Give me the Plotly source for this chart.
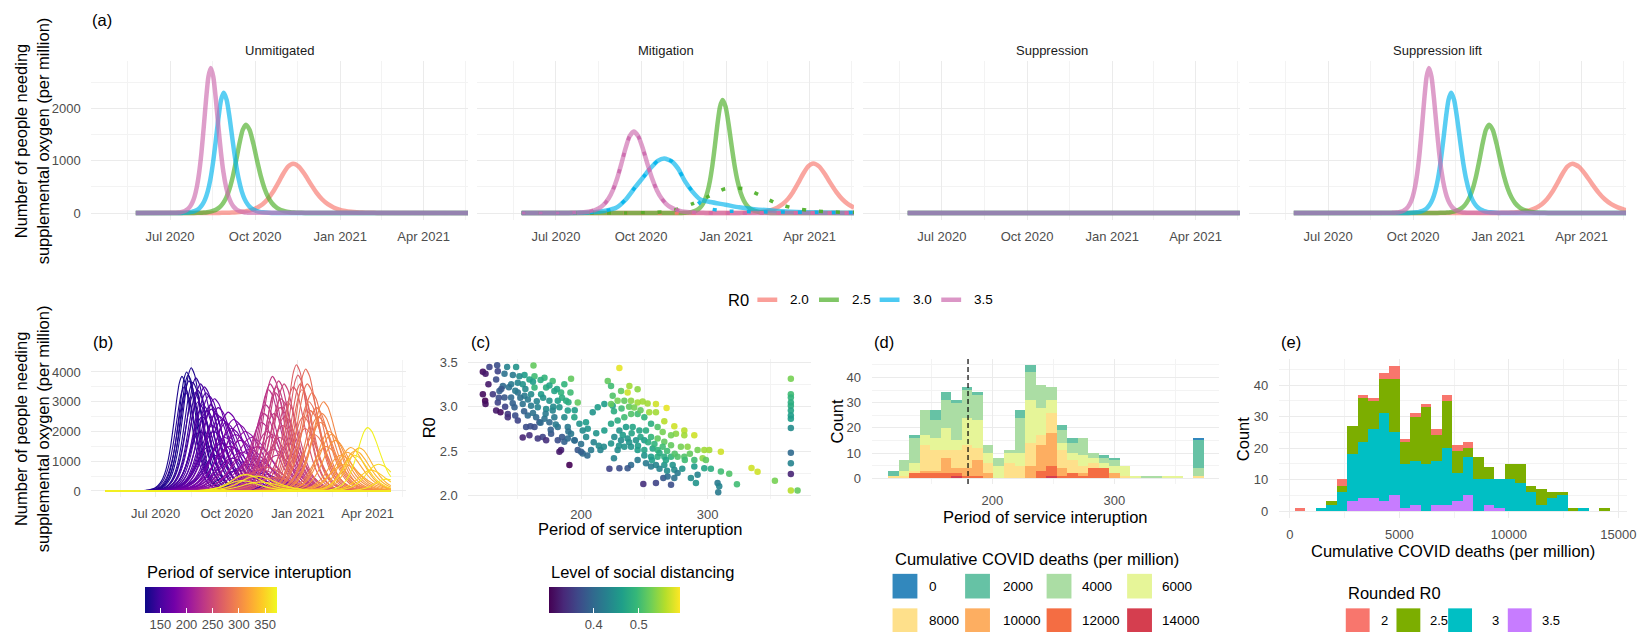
import numpy as np
import pandas as pd
import plotly.graph_objects as go
from plotly.colors import sample_colorscale

W, H = 1648, 638
def fx(px): return px / W
def fy(py): return 1 - py / H

FONT = "Liberation Sans, Arial, Helvetica, sans-serif"
GRID = "#EBEBEB"
MINOR = "#F3F3F3"
TICKFONT = dict(family=FONT, size=13, color="#4D4D4D")

# ---------------- data: panel (a) ----------------
R0_LEVELS = ["2.0", "2.5", "3.0", "3.5"]
R0_COLORS = ["#F8766D", "#4AAE25", "#00B4EC", "#CC6AAE"]
SCENARIOS = ["Unmitigated", "Mitigation", "Suppression", "Suppression lift"]
A_LINE_START, A_LINE_END = "2020-05-25", "2021-05-19"

A_PEAK = {
    "Unmitigated": ["2020-11-11", "2020-09-21", "2020-08-28", "2020-08-14"],
    "Mitigation": ["2021-04-05", "2020-12-28", "2020-10-26", "2020-09-23"],
    "Suppression": ["2020-11-11", "2020-09-21", "2020-08-28", "2020-08-14"],
    "Suppression lift": ["2021-03-22", "2020-12-22", "2020-11-11", "2020-10-18"],
}
A_HEIGHT = {
    "Unmitigated": [943, 1690, 2300, 2774],
    "Mitigation": [950, 2164, 1044, 1560],
    "Suppression": [0, 0, 0, 0],
    "Suppression lift": [943, 1690, 2300, 2774],
}
A_WIDTH_LEFT = {
    "Unmitigated": [22, 14, 11.5, 10],
    "Mitigation": [22, 11, 18, 18],
    "Suppression": [22, 14, 11.5, 10],
    "Suppression lift": [22, 14, 11.5, 10],
}
A_WIDTH_RIGHT = {
    "Unmitigated": [25, 16, 13, 11],
    "Mitigation": [25, 13, 20, 20],
    "Suppression": [25, 16, 13, 11],
    "Suppression lift": [28, 16, 13, 11],
}
# mitigation, R0 = 3.0 (long tail)
MIT_BLUE_DATES = ["2020-05-25", "2020-07-20", "2020-08-10", "2020-08-25", "2020-09-04", "2020-09-14",
                  "2020-09-24", "2020-10-04", "2020-10-11", "2020-10-19", "2020-10-26", "2020-11-03",
                  "2020-11-10", "2020-11-17", "2020-11-25", "2020-12-04", "2020-12-15", "2020-12-31",
                  "2021-01-15", "2021-01-31", "2021-02-25", "2021-03-25", "2021-04-25", "2021-05-19"]
MIT_BLUE_VALUES = [0, 2, 15, 50, 100, 250, 480, 700, 855, 1000, 1044, 990, 850, 620, 420, 260, 210, 160,
                   110, 75, 40, 15, 5, 2]
# mitigation dotted series
MIT_DOT_GREEN_DATES = ["2020-05-25", "2020-09-15", "2020-10-16", "2020-11-05", "2020-11-26", "2020-12-13",
                       "2020-12-31", "2021-01-21", "2021-02-07", "2021-02-25", "2021-03-16", "2021-04-05",
                       "2021-04-25", "2021-05-19"]
MIT_DOT_GREEN_VALUES = [0, 3, 10, 50, 180, 320, 465, 465, 335, 180, 90, 40, 20, 15]
MIT_DOT_BLUE_DATES = MIT_BLUE_DATES[:15] + ["2020-12-04", "2020-12-15", "2020-12-31", "2021-02-01",
                                             "2021-04-01", "2021-05-19"]
MIT_DOT_BLUE_VALUES = MIT_BLUE_VALUES[:15] + [180, 80, 40, 25, 15, 10]

# normalised epidemic-curve shape (offset in widths -> fraction of peak)
PROFILE_U = [-4, -3.75, -3.5, -3.25, -3, -2.75, -2.5, -2.25, -2, -1.75, -1.5, -1.25, -1, -0.75, -0.5, -0.25,
             0, 0.25, 0.5, 0.75, 1, 1.25, 1.5, 1.75, 2, 2.25, 2.5, 2.75, 3, 3.25, 3.5, 3.75, 4]
PROFILE_V = [0.00134, 0.00221, 0.00364, 0.00600, 0.00987, 0.01621, 0.02659, 0.04346, 0.07065, 0.11380,
             0.18071, 0.28040, 0.41997, 0.59663, 0.78645, 0.94002, 1.0, 0.94002, 0.78645, 0.59663, 0.41997,
             0.28040, 0.18071, 0.11380, 0.07065, 0.04346, 0.02659, 0.01621, 0.00987, 0.00600, 0.00364,
             0.00221, 0.00134]

# ---------------- data: panel (b) ----------------
B_LINE_START, B_LINE_END = "2020-04-27", "2021-05-01"
B_PEAK = ["2020-08-10", "2020-08-16", "2020-08-04", "2020-08-07", "2020-08-20", "2020-08-28", "2020-09-02",
          "2020-08-25", "2020-09-08", "2020-09-15", "2020-09-05", "2020-09-20", "2020-10-03", "2020-09-25",
          "2020-10-10", "2020-10-16", "2020-09-12", "2020-08-30", "2020-10-25", "2020-11-02", "2020-09-28",
          "2020-10-05", "2020-10-20", "2020-09-18", "2020-10-28", "2020-11-10", "2020-10-15", "2020-08-22",
          "2020-08-13", "2020-09-10",
          "2020-10-25", "2020-11-08", "2020-11-01", "2020-11-15", "2020-10-30",
          "2020-11-29", "2020-12-07", "2020-12-14", "2020-11-24", "2020-12-03", "2020-12-10", "2020-11-20",
          "2020-12-18", "2020-12-01", "2020-11-15", "2020-12-12", "2020-11-28", "2020-12-20", "2020-11-10",
          "2020-12-05",
          "2020-12-30", "2021-01-11", "2021-01-04", "2021-01-19", "2020-12-26", "2021-01-15", "2021-01-25",
          "2021-02-03", "2021-01-08", "2021-01-30", "2021-02-10", "2021-02-18", "2021-01-22", "2021-02-06",
          "2021-03-10", "2021-03-21", "2021-02-25", "2021-03-01",
          "2021-04-01", "2021-03-15", "2021-04-15", "2021-04-25", "2021-04-05"]
B_HEIGHT = [4000, 4140, 3850, 3500, 3300, 3600, 3500, 3000, 3200, 3100, 2700, 2800, 2650, 2400, 2400, 2250,
            2200, 2500, 2000, 1800, 1800, 1500, 1300, 1200, 900, 600, 700, 3800, 3700, 2900,
            550, 500, 600, 700, 450,
            3850, 3700, 3600, 3400, 3300, 3100, 2900, 3000, 2600, 2300, 2200, 1900, 1600, 1500, 1200,
            4240, 4100, 3600, 3300, 3500, 3000, 2800, 3000, 2500, 2300, 2000, 1700, 1900, 1500, 1460, 1450,
            1200, 900,
            2130, 1200, 900, 400, 700]
B_WIDTH = [14, 15, 14, 15, 16, 17, 18, 17, 19, 20, 18, 21, 22, 22, 24, 24, 20, 18, 26, 28, 25, 28, 30, 25,
           32, 35, 30, 16, 15, 19,
           25, 28, 30, 30, 28,
           17, 17, 17, 18, 18, 19, 19, 18, 20, 21, 20, 22, 22, 25, 25,
           16, 17, 17, 18, 17, 18, 19, 19, 18, 20, 20, 21, 20, 22, 20, 20, 22, 25,
           18, 20, 22, 20, 22]
B_PERIOD = [125, 130, 128, 135, 140, 150, 155, 145, 160, 165, 150, 170, 175, 165, 180, 185, 160, 140, 195,
            205, 170, 180, 190, 150, 175, 160, 140, 138, 132, 158,
            365, 360, 250, 230, 140,
            235, 240, 245, 230, 238, 242, 225, 250, 235, 222, 245, 228, 240, 215, 225,
            268, 280, 272, 285, 262, 282, 290, 300, 275, 295, 305, 312, 288, 300, 322, 330, 315, 318,
            368, 350, 355, 360, 345]
# further curves of panel (b)
B_PEAK_2 = ["2020-08-12", "2020-08-18", "2020-08-09", "2020-08-24", "2020-09-04", "2020-08-31", "2020-09-11",
            "2020-09-17", "2020-09-22", "2020-09-30", "2020-10-07", "2020-10-12", "2020-09-14", "2020-09-24",
            "2020-10-18", "2020-10-30", "2020-10-08", "2020-11-05", "2020-09-08", "2020-08-27",
            "2020-11-26", "2020-12-04", "2020-12-09", "2020-11-18", "2020-12-15", "2020-11-22", "2020-12-08",
            "2020-11-30",
            "2021-01-01", "2021-01-06", "2021-01-13", "2021-01-17", "2021-01-27", "2021-02-01", "2021-02-13",
            "2021-01-10", "2021-03-05", "2021-03-16",
            "2020-11-20", "2020-12-01", "2020-10-20", "2020-11-12"]
B_HEIGHT_2 = [3900, 3650, 3300, 3400, 3300, 2900, 2750, 2600, 2500, 2300, 2100, 1900, 2000, 1600, 1700, 1400,
              1100, 1100, 1500, 2000,
              3600, 3500, 2800, 2600, 2500, 2000, 1800, 1400,
              3900, 3400, 3600, 2700, 2500, 2600, 1900, 2100, 1300, 1350,
              800, 450, 350, 300]
B_WIDTH_2 = [14, 15, 15, 16, 18, 18, 19, 20, 21, 22, 24, 25, 22, 24, 26, 28, 28, 30, 22, 18,
             17, 18, 19, 20, 20, 22, 22, 24,
             16, 17, 18, 19, 20, 19, 21, 19, 22, 21,
             30, 30, 25, 30]
B_PERIOD_2 = [127, 133, 136, 142, 152, 148, 158, 163, 168, 172, 178, 182, 150, 160, 188, 198, 170, 200, 145, 138,
              232, 237, 243, 226, 248, 230, 236, 232,
              265, 275, 283, 286, 292, 298, 308, 278, 320, 328,
              255, 270, 368, 362]
B_PERIOD_RANGE = [121, 373]

# ---------------- data: panel (c) ----------------
C_PERIOD_L1 = [122.4, 124.5, 127.6, 133.7, 134.2, 141.6, 148.7, 162.4, 163.2, 155.3, 151.3, 146.1, 139.5,
               132.9, 126.8, 122.4, 124.2, 124.5, 130.3, 135.5, 138.2, 144.7, 150.0, 153.9, 159.2, 163.2,
               171.1, 177.6, 186.8, 192.1]
C_R0_L1 = [3.393, 3.370, 3.448, 3.467, 3.400, 3.448, 3.448, 3.463, 3.344, 3.356, 3.344, 3.356, 3.370, 3.307,
           3.252, 3.141, 3.067, 3.030, 3.141, 3.178, 3.233, 3.252, 3.270, 3.252, 3.307, 3.215, 3.326, 3.289,
           3.252, 3.315]
C_SD_L1 = [.31, .32, .36, .37, .36, .43, .45, .52, .50, .46, .44, .42, .41, .37, .32, .31, .30, .31, .35, .39,
           .40, .42, .43, .45, .47, .49, .49, .50, .49, .52]

C_PERIOD_L2 = [172.4, 178.9, 184.2, 191.6, 197.4, 188.2, 181.6, 175.0, 168.4, 160.5, 155.3, 150.0, 144.7,
               139.5, 134.2, 132.9, 136.3, 142.1, 142.1, 150.0, 147.4, 153.9, 160.5, 165.8, 172.4, 177.6,
               182.9, 189.5, 194.7, 186.8]
C_R0_L2 = [3.215, 3.178, 3.159, 3.159, 3.048, 3.067, 3.067, 3.067, 3.141, 3.141, 3.122, 3.159, 3.104, 3.104,
           3.048, 2.956, 2.937, 2.919, 2.881, 2.844, 2.993, 3.030, 3.011, 2.993, 2.974, 2.956, 2.993, 2.956,
           2.881, 2.881]
C_SD_L2 = [.48, .47, .49, .50, .52, .48, .46, .45, .46, .44, .42, .41, .40, .38, .36, .32, .31, .35, .34, .36,
           .39, .41, .42, .43, .44, .43, .45, .46, .47, .44]

C_PERIOD_L3 = [178.9, 171.1, 164.5, 157.9, 156.6, 163.2, 167.1, 175.0, 181.6, 189.5, 192.1, 198.7, 203.9,
               201.3, 205.3, 176.3, 169.7, 159.2, 153.9, 165.8, 172.4, 181.6, 186.8, 189.5, 194.7, 184.2,
               182.9, 197.4, 201.3, 200.0, 190.8, 207.9, 215.3]
C_R0_L3 = [2.881, 2.863, 2.881, 2.900, 2.770, 2.770, 2.826, 2.826, 2.770, 2.770, 2.696, 2.807, 2.826, 2.733,
           2.752, 2.696, 2.659, 2.678, 2.652, 2.641, 2.622, 2.622, 2.604, 2.641, 2.622, 2.511, 2.493, 2.511,
           2.474, 2.493, 2.344, 2.511, 2.511]
C_SD_L3 = [.42, .41, .40, .40, .37, .37, .38, .40, .41, .42, .42, .45, .46, .44, .45, .38, .36, .34, .33, .35,
           .34, .37, .39, .40, .41, .33, .32, .38, .40, .39, .30, .42, .43]

C_PERIOD_L4 = [137, 143, 148, 156, 162, 168, 175, 181, 170, 165, 158, 152, 146, 140, 135, 185, 190, 195, 178,
               172, 162, 155, 148, 168, 180, 190, 176, 160, 185, 195, 200, 204, 210, 214, 205]
C_R0_L4 = [3.20, 3.22, 3.18, 3.20, 3.28, 3.30, 3.24, 3.20, 3.10, 3.06, 3.08, 3.10, 3.04, 3.00, 3.10, 3.10,
           3.05, 2.96, 3.00, 2.92, 2.93, 2.95, 2.90, 2.82, 2.80, 2.72, 2.74, 2.78, 2.66, 2.62, 2.58, 2.66,
           2.60, 2.56, 2.45]
C_SD_L4 = [.38, .41, .42, .44, .46, .48, .47, .47, .45, .43, .42, .41, .39, .36, .37, .48, .48, .46, .44, .42,
           .41, .39, .37, .40, .42, .41, .39, .37, .38, .40, .41, .44, .43, .44, .40]

C_PERIOD_M1 = [209.2, 213.2, 218.4, 225.0, 221.1, 223.7, 230.3, 238.2, 244.7, 236.8, 231.6, 225.0, 223.7,
               228.9, 234.2, 239.5, 244.7, 248.7, 252.6, 259.2, 267.6, 253.9, 259.2, 265.8, 273.7, 281.6,
               289.5, 281.6, 275.0, 271.1, 264.5, 260.5, 265.8, 271.1, 278.9, 284.2, 292.1, 297.4, 301.3,
               310.5]
C_R0_M1 = [2.937, 2.993, 3.030, 3.011, 3.289, 3.233, 3.437, 3.233, 3.196, 3.159, 3.178, 3.122, 3.030, 3.067,
           3.067, 3.067, 3.048, 3.059, 3.037, 3.030, 2.985, 2.937, 2.937, 2.837, 2.781, 2.733, 2.678, 2.678,
           2.696, 2.678, 2.715, 2.641, 2.604, 2.567, 2.548, 2.548, 2.511, 2.511, 2.511, 2.493]
C_SD_M1 = [.45, .46, .46, .47, .52, .50, .58, .55, .54, .57, .52, .51, .52, .53, .52, .54, .55, .55, .55, .57,
           .58, .55, .55, .56, .57, .56, .57, .55, .54, .53, .53, .52, .52, .52, .53, .54, .53, .55, .55, .57]

C_PERIOD_M2 = [296.1, 298.7, 289.5, 281.6, 276.3, 271.1, 265.8, 260.5, 255.3, 250.0, 244.7, 239.5, 234.2,
               228.9, 223.7, 218.4, 223.7, 228.9, 234.2, 239.5, 244.7, 250.0, 255.3, 251.3, 246.1, 240.8,
               235.5, 230.3, 226.3, 231.6, 236.8, 243.4, 250.0, 255.3, 260.5, 264.5, 256.6, 260.5]
C_R0_M2 = [2.419, 2.400, 2.400, 2.437, 2.437, 2.437, 2.437, 2.437, 2.437, 2.511, 2.511, 2.548, 2.548, 2.511,
           2.585, 2.733, 2.807, 2.844, 2.881, 2.919, 2.919, 2.881, 2.807, 2.733, 2.733, 2.770, 2.770, 2.733,
           2.659, 2.622, 2.641, 2.622, 2.622, 2.659, 2.770, 2.548, 2.530, 2.511]
C_SD_M2 = [.54, .52, .50, .51, .51, .49, .48, .48, .46, .47, .46, .45, .45, .44, .45, .46, .47, .48, .50, .51,
           .50, .49, .48, .48, .47, .47, .46, .45, .44, .44, .45, .45, .46, .49, .51, .50, .47, .49]

C_PERIOD_M3 = [251.3, 255.3, 259.2, 265.8, 272.4, 273.7, 267.1, 244.7, 239.5, 236.8, 230.3, 222.4, 249.2,
               259.2, 265.0, 271.1, 273.7, 276.3, 268.4, 286.8, 290.8, 292.1, 289.5, 297.4, 302.6, 310.5,
               317.1, 307.9, 309.2, 308.4, 323.2, 334.7, 339.5, 353.2]
C_R0_M3 = [2.363, 2.326, 2.344, 2.344, 2.344, 2.289, 2.400, 2.400, 2.344, 2.307, 2.307, 2.300, 2.130, 2.141,
           2.196, 2.122, 2.196, 2.252, 2.215, 2.196, 2.141, 2.233, 2.326, 2.307, 2.300, 2.270, 2.244, 2.141,
           2.104, 2.037, 2.126, 2.311, 2.267, 2.167]
C_SD_M3 = [.42, .42, .43, .45, .45, .44, .47, .42, .40, .38, .37, .36, .34, .36, .38, .37, .41, .42, .40, .44,
           .45, .43, .46, .47, .48, .50, .51, .42, .43, .42, .50, .57, .57, .53]

C_PERIOD_M4 = [226, 232, 238, 242, 247, 233, 240, 247, 253, 258, 245, 238, 230, 262, 268, 274, 282, 286, 250,
               256, 262, 268, 280, 218, 212, 226]
C_R0_M4 = [2.95, 2.98, 3.00, 2.99, 2.96, 2.68, 2.70, 2.66, 2.60, 2.58, 2.56, 2.60, 2.56, 2.48, 2.50, 2.47,
           2.40, 2.47, 2.45, 2.40, 2.30, 2.28, 2.30, 2.55, 2.70, 2.42]
C_SD_M4 = [.48, .50, .52, .53, .52, .46, .47, .47, .48, .49, .46, .45, .45, .48, .50, .51, .50, .52, .45, .46,
           .43, .44, .45, .44, .45, .43]

C_PERIOD_R = [365.8] * 13 + [371.1]
C_R0_R = [3.315, 3.141, 3.104, 3.048, 3.011, 2.956, 2.900, 2.863, 2.759, 2.481, 2.363, 2.241, 2.056, 2.056]
C_SD_R = [.53, .50, .49, .48, .48, .47, .46, .46, .44, .40, .43, .33, .56, .52]
C_SD_RANGE = [0.30, 0.591]

# ---------------- data: panel (d) ----------------
D_BIN_START, D_BIN_WIDTH, D_NBINS = 114.3, 8.63, 30
D_VLINE = 180
D_LEVELS = [14000, 12000, 10000, 8000, 6000, 4000, 2000, 0]          # stacking order, bottom first
D_COLORS = {0: "#3288BD", 2000: "#66C2A5", 4000: "#ABDDA4", 6000: "#E6F598",
            8000: "#FEE08B", 10000: "#FDAE61", 12000: "#F46D43", 14000: "#D53E4F"}
D_COUNTS = {
    14000: [0, 0, 0, 0, 0, 0, 1, 0, 0, 0, 0, 0, 0, 0, 0, 1, 0, 0, 0, 0, 0, 0, 0, 0, 0, 0, 0, 0, 0, 0],
    12000: [0, 0, 2, 2, 2, 2, 1, 1, 1, 0, 0, 0, 0, 0, 3, 4, 1, 2, 1, 4, 4, 0, 0, 0, 0, 0, 0, 0, 0, 0],
    10000: [0, 0, 0, 1, 1, 6, 2, 3, 6, 2, 0, 0, 0, 5, 10, 13, 3, 0, 1, 0, 0, 2, 0, 0, 0, 0, 0, 0, 0, 0],
    8000: [1, 1, 1, 10, 8, 3, 7, 9, 5, 4, 0, 6, 5, 9, 4, 8, 7, 5, 3, 2, 0, 0, 1, 0, 0, 0, 0, 0, 0, 1],
    6000: [0, 2, 3, 4, 5, 9, 4, 11, 11, 4, 5, 4, 5, 17, 11, 5, 3, 3, 4, 2, 2, 3, 4, 1, 0, 0, 1, 1, 0, 0],
    4000: [0, 4, 10, 10, 7, 11, 15, 11, 10, 3, 3, 1, 14, 11, 9, 5, 5, 4, 7, 2, 2, 2, 0, 0, 1, 1, 0, 0, 0, 3],
    2000: [2, 0, 1, 0, 4, 3, 1, 1, 1, 0, 0, 0, 3, 3, 0, 0, 2, 2, 0, 0, 1, 1, 0, 0, 0, 0, 0, 0, 0, 11],
    0: [0, 0, 0, 0, 0, 0, 0, 0, 0, 0, 0, 0, 0, 0, 0, 0, 0, 0, 0, 0, 0, 0, 0, 0, 0, 0, 0, 0, 0, 1],
}

# ---------------- data: panel (e) ----------------
E_BIN_START, E_BIN_WIDTH, E_NBINS = 226, 479.4, 30
E_LEVELS = ["3.5", "3", "2.5", "2"]                                   # stacking order, bottom first
E_COLORS = {"2": "#F8766D", "2.5": "#7CAE00", "3": "#00BFC4", "3.5": "#C77CFF"}
E_COUNTS = {
    "2": [1, 0, 0, 0, 2, 0, 1, 1, 2, 4, 1, 1, 1, 2, 2, 2, 2, 0, 0, 0, 0, 0, 0, 0, 0, 0, 0, 0, 0, 0],
    "2.5": [0, 0, 0, 1, 2, 9, 14, 9, 11, 17, 7, 14, 18, 8, 15, 7, 3, 7, 4, 0, 5, 6, 2, 5, 2, 1, 1, 0, 0, 1],
    "3": [0, 0, 1, 2, 6, 15, 18, 22, 28, 20, 14, 14, 15, 14, 18, 9, 12, 10, 8, 9, 10, 9, 6, 2, 4, 5, 0, 1, 0, 0],
    "3.5": [0, 0, 0, 0, 0, 3, 4, 4, 3, 5, 1, 2, 0, 2, 2, 3, 5, 0, 2, 1, 0, 0, 0, 0, 0, 0, 0, 0, 0, 0],
}


# ---------------- helpers ----------------
def rgba(hexc, a):
    h = hexc.lstrip("#")
    return f"rgba({int(h[0:2], 16)},{int(h[2:4], 16)},{int(h[4:6], 16)},{a})"


def profile_curve(start, end, peak, height, wl, wr):
    t0, t1, tp = pd.Timestamp(start), pd.Timestamp(end), pd.Timestamp(peak)

    def value_at(t):
        o = (t - tp) / pd.Timedelta(days=1)
        u = o / (wl if o < 0 else wr)
        return height * float(np.interp(u, PROFILE_U, PROFILE_V, left=0.0, right=0.0))

    xs, ys = [t0], [value_at(t0)]
    for u, v in zip(PROFILE_U, PROFILE_V):
        t = tp + pd.Timedelta(days=u * (wl if u < 0 else wr))
        if t0 < t < t1:
            xs.append(t)
            ys.append(height * v)
    xs.append(t1)
    ys.append(value_at(t1))
    return xs, ys


fig = go.Figure()

# ---------------- panel (a) ----------------
for i, sc in enumerate(SCENARIOS):
    ax = i + 1
    for j in range(4):
        if sc == "Mitigation" and j == 2:
            xs, ys = pd.to_datetime(MIT_BLUE_DATES), MIT_BLUE_VALUES
        else:
            xs, ys = profile_curve(A_LINE_START, A_LINE_END, A_PEAK[sc][j], A_HEIGHT[sc][j],
                                   A_WIDTH_LEFT[sc][j], A_WIDTH_RIGHT[sc][j])
        fig.add_trace(go.Scatter(x=xs, y=ys, mode="lines", xaxis=f"x{ax}", yaxis=f"y{ax}",
                                 line=dict(color=rgba(R0_COLORS[j], 0.65), width=4.5, shape="spline",
                                           smoothing=0.6),
                                 showlegend=False, hoverinfo="skip"))
    if sc == "Mitigation":
        dots = []
        dots.append(([pd.Timestamp(A_LINE_START), pd.Timestamp(A_LINE_END)], [0, 0]))
        dots.append((pd.to_datetime(MIT_DOT_GREEN_DATES), MIT_DOT_GREEN_VALUES))
        dots.append((pd.to_datetime(MIT_DOT_BLUE_DATES), MIT_DOT_BLUE_VALUES))
        dots.append(profile_curve(A_LINE_START, A_LINE_END, A_PEAK[sc][3], A_HEIGHT[sc][3],
                                  A_WIDTH_LEFT[sc][3], A_WIDTH_RIGHT[sc][3]))
        for j, (xs, ys) in enumerate(dots):
            fig.add_trace(go.Scatter(x=xs, y=ys, mode="lines", xaxis=f"x{ax}", yaxis=f"y{ax}",
                                     line=dict(color=rgba(R0_COLORS[j], 0.9), width=3.5, shape="spline",
                                               smoothing=0.6, dash="4px,13px"),
                                     showlegend=False, hoverinfo="skip"))

# ---------------- panel (b) ----------------
all_peak = B_PEAK + B_PEAK_2
all_height = B_HEIGHT + B_HEIGHT_2
all_width = B_WIDTH + B_WIDTH_2
all_period = B_PERIOD + B_PERIOD_2
order = np.argsort(all_period, kind="stable")
for k in order:
    t = (all_period[k] - B_PERIOD_RANGE[0]) / (B_PERIOD_RANGE[1] - B_PERIOD_RANGE[0])
    col = sample_colorscale("Plasma", [t])[0]
    xs, ys = profile_curve(B_LINE_START, B_LINE_END, all_peak[k], all_height[k], all_width[k],
                           1.2 * all_width[k])
    fig.add_trace(go.Scatter(x=xs, y=ys, mode="lines", xaxis="x5", yaxis="y5",
                             line=dict(color=col, width=1.1, shape="spline", smoothing=0.6),
                             showlegend=False, hoverinfo="skip"))
# colour bar for (b)
fig.add_trace(go.Scatter(
    x=[None], y=[None], mode="markers", xaxis="x5", yaxis="y5", showlegend=False, hoverinfo="skip",
    marker=dict(color=[B_PERIOD_RANGE[0]], colorscale="Plasma", cmin=B_PERIOD_RANGE[0], cmax=B_PERIOD_RANGE[1],
                showscale=True,
                colorbar=dict(orientation="h", lenmode="pixels", len=132, thicknessmode="pixels", thickness=26,
                              x=fx(146), xanchor="left", y=fy(591), yanchor="top", xpad=0, ypad=0,
                              outlinewidth=0, tickvals=[150, 200, 250, 300, 350], ticks="inside", ticklen=5,
                              tickcolor="white", tickwidth=1, tickfont=TICKFONT))))

# ---------------- panel (c) ----------------
C_PERIOD = C_PERIOD_L1 + C_PERIOD_L2 + C_PERIOD_L3 + C_PERIOD_L4 + C_PERIOD_M1 + C_PERIOD_M2 + C_PERIOD_M3 + C_PERIOD_M4 + C_PERIOD_R
C_R0 = C_R0_L1 + C_R0_L2 + C_R0_L3 + C_R0_L4 + C_R0_M1 + C_R0_M2 + C_R0_M3 + C_R0_M4 + C_R0_R
C_SD = C_SD_L1 + C_SD_L2 + C_SD_L3 + C_SD_L4 + C_SD_M1 + C_SD_M2 + C_SD_M3 + C_SD_M4 + C_SD_R
fig.add_trace(go.Scatter(
    x=C_PERIOD, y=C_R0, mode="markers", xaxis="x6", yaxis="y6", showlegend=False, hoverinfo="skip",
    marker=dict(size=6.5, color=C_SD, colorscale="Viridis", cmin=C_SD_RANGE[0], cmax=C_SD_RANGE[1],
                opacity=0.9, line=dict(width=0), showscale=True,
                colorbar=dict(orientation="h", lenmode="pixels", len=131, thicknessmode="pixels", thickness=26,
                              x=fx(552), xanchor="left", y=fy(591), yanchor="top", xpad=0, ypad=0,
                              outlinewidth=0, tickvals=[0.4, 0.5], ticks="inside", ticklen=5,
                              tickcolor="white", tickwidth=1, tickfont=TICKFONT))))

# ---------------- panel (d) ----------------
d_centers = [D_BIN_START + D_BIN_WIDTH * (k + 0.5) for k in range(D_NBINS)]
for lev in D_LEVELS:
    fig.add_trace(go.Bar(x=d_centers, y=D_COUNTS[lev], width=D_BIN_WIDTH, xaxis="x7", yaxis="y7",
                         marker=dict(color=D_COLORS[lev], line=dict(width=0)), showlegend=False,
                         hoverinfo="skip"))
fig.add_shape(type="line", xref="x7", yref="y7 domain", x0=D_VLINE, x1=D_VLINE, y0=0, y1=1,
              line=dict(color="black", width=1.2, dash="5px,3px"))

# ---------------- panel (e) ----------------
e_centers = [E_BIN_START + E_BIN_WIDTH * (k + 0.5) for k in range(E_NBINS)]
for lev in E_LEVELS:
    fig.add_trace(go.Bar(x=e_centers, y=E_COUNTS[lev], width=E_BIN_WIDTH, xaxis="x8", yaxis="y8",
                         marker=dict(color=E_COLORS[lev], line=dict(width=0)), showlegend=False,
                         hoverinfo="skip"))

# ---------------- axes ----------------
def axis(dom, rng, tickvals, ticktext=None, minor=None, showlabels=True, is_x=True, type_=None):
    d = dict(domain=dom, range=rng, tickvals=tickvals, showgrid=True, gridcolor=GRID, gridwidth=1.1,
             zeroline=False, showline=False, ticks="outside", ticklen=4 if is_x else 7,
             tickcolor="rgba(0,0,0,0)", tickfont=TICKFONT, showticklabels=showlabels, fixedrange=True)
    if ticktext is not None:
        d["ticktext"] = ticktext
    if minor is not None:
        d["minor"] = dict(tickvals=minor, showgrid=True, gridcolor=MINOR, gridwidth=0.7, ticks="")
    if type_:
        d["type"] = type_
    return d

DATE_TICKS = ["2020-07-01", "2020-10-01", "2021-01-01", "2021-04-01"]
DATE_TEXT = ["Jul 2020", "Oct 2020", "Jan 2021", "Apr 2021"]
DATE_MINOR = ["2020-05-16", "2020-08-16", "2020-11-16", "2021-02-15", "2021-05-16"]

layout = dict(width=W, height=H, margin=dict(l=0, r=0, t=0, b=0), paper_bgcolor="white",
              plot_bgcolor="white", showlegend=False, barmode="stack", bargap=0,
              font=dict(family=FONT, size=13, color="black"))

A_X_DOMS = [(91.9, 470.9), (480.2, 859.2), (868.5, 1247.5), (1257, 1636)]
for i, (a, b) in enumerate(A_X_DOMS):
    n = i + 1
    layout[f"xaxis{n}"] = axis([fx(a), fx(b)], ["2020-04-07", "2021-05-19"], DATE_TICKS, DATE_TEXT,
                               DATE_MINOR, type_="date")
    layout[f"xaxis{n}"]["anchor"] = f"y{n}"
    layout[f"yaxis{n}"] = axis([fy(219.4), fy(57.6)], [-139, 2913], [0, 1000, 2000], None,
                               [500, 1500, 2500], showlabels=(i == 0), is_x=False)
    layout[f"yaxis{n}"]["anchor"] = f"x{n}"

layout["xaxis5"] = axis([fx(92), fx(408)], ["2020-04-09", "2021-05-20"], DATE_TICKS, DATE_TEXT, DATE_MINOR,
                        type_="date")
layout["xaxis5"]["anchor"] = "y5"
layout["yaxis5"] = axis([fy(500.3), fy(360.7)], [-210, 4415], [0, 1000, 2000, 3000, 4000], None,
                        [500, 1500, 2500, 3500], is_x=False)
layout["yaxis5"]["anchor"] = "x5"

layout["xaxis6"] = axis([fx(471.3), fx(816.3)], [111, 382], [200, 300], None, [150, 250, 350])
layout["xaxis6"]["anchor"] = "y6"
layout["yaxis6"] = axis([fy(501.6), fy(360)], [1.966, 3.538], [2.0, 2.5, 3.0, 3.5], ["2.0", "2.5", "3.0", "3.5"],
                        [2.25, 2.75, 3.25], is_x=False)
layout["yaxis6"]["anchor"] = "x6"

layout["xaxis7"] = axis([fx(877), fx(1226.7)], [101, 386], [200, 300], None, [150, 250, 350])
layout["xaxis7"]["anchor"] = "y7"
layout["yaxis7"] = axis([fy(486.8), fy(360.2)], [-2.25, 47.25], [0, 10, 20, 30, 40], None,
                        [5, 15, 25, 35, 45], is_x=False)
layout["yaxis7"]["anchor"] = "x7"

layout["xaxis8"] = axis([fx(1286.7), fx(1636.7)], [-499, 15381], [0, 5000, 10000, 15000],
                        ["0", "5000", "10000", "15000"], [2500, 7500, 12500])
layout["xaxis8"]["anchor"] = "y8"
layout["yaxis8"] = axis([fy(521.6), fy(360.2)], [-2.3, 48.3], [0, 10, 20, 30, 40], None,
                        [5, 15, 25, 35, 45], is_x=False)
layout["yaxis8"]["anchor"] = "x8"

fig.update_layout(**layout)

# ---------------- text ----------------
ann = []
def text(px, py, s, size=16.5, color="black", xanchor="left", angle=0):
    ann.append(dict(x=fx(px), y=fy(py), xref="paper", yref="paper", text=s, showarrow=False,
                    xanchor=xanchor, yanchor="middle", textangle=angle,
                    font=dict(family=FONT, size=size, color=color)))

YTITLE = "Number of people needing<br>supplemental oxygen (per million)"
text(91, 16, "(a)")
for (a, b), sc in zip(A_X_DOMS, SCENARIOS):
    text((a + b) / 2, 47, sc, size=13, color="#1A1A1A", xanchor="center")
text(32, 138.5, YTITLE, xanchor="center", angle=-90)
text(92, 343, "(b)")
text(32, 430.5, YTITLE, xanchor="center", angle=-90)
text(472, 343, "(c)")
text(432, 430, "R0", xanchor="center", angle=-90)
text(644, 533, "Period of service interuption", xanchor="center")
text(877, 343, "(d)")
text(842, 423.5, "Count", xanchor="center", angle=-90)
text(1052, 520, "Period of service interuption", xanchor="center")
text(1287, 343, "(e)")
text(1250, 441, "Count", xanchor="center", angle=-90)
text(1462, 555, "Cumulative COVID deaths (per million)", xanchor="center")

# colour bar titles
text(146, 576, "Period of service interuption")
text(552, 576, "Level of social distancing")

# R0 legend
text(730, 300, "R0")
R0_KEY_X = [762, 824, 885, 947]
R0_LAB_X = [793, 855, 917, 978]
for j in range(4):
    fig.add_shape(type="line", xref="paper", yref="paper", x0=fx(R0_KEY_X[j]), x1=fx(R0_KEY_X[j] + 20),
                  y0=fy(300), y1=fy(300), line=dict(color=rgba(R0_COLORS[j], 0.7), width=4.5))
    text(R0_LAB_X[j], 300, R0_LEVELS[j], size=13.5)

# (d) legend
text(898, 563, "Cumulative COVID deaths (per million)")
D_KEY_X = [898, 971, 1053, 1134]
D_LAB_X = [933, 1007, 1087, 1167]
D_ROWS = [[0, 2000, 4000, 6000], [8000, 10000, 12000, 14000]]
D_ROW_Y = [(578, 603), (613, 637)]
for r, row in enumerate(D_ROWS):
    for c, lev in enumerate(row):
        y0, y1 = D_ROW_Y[r]
        fig.add_shape(type="rect", xref="paper", yref="paper", x0=fx(D_KEY_X[c]), x1=fx(D_KEY_X[c] + 25),
                      y0=fy(y1), y1=fy(y0), fillcolor=D_COLORS[lev], line=dict(width=0))
        text(D_LAB_X[c], (y0 + y1) / 2, str(lev), size=13.5)

# (e) legend
text(1354, 597, "Rounded R0")
E_KEY_X = [1354, 1405, 1457, 1517]
E_LAB_X = [1387, 1437, 1499, 1549]
for c, lev in enumerate(["2", "2.5", "3", "3.5"]):
    fig.add_shape(type="rect", xref="paper", yref="paper", x0=fx(E_KEY_X[c]), x1=fx(E_KEY_X[c] + 24),
                  y0=fy(637), y1=fy(613), fillcolor=E_COLORS[lev], line=dict(width=0))
    text(E_LAB_X[c], 625, lev, size=13)

fig.update_layout(annotations=ann)
fig.write_html("out.html", config={"displayModeBar": False},
               post_script="document.body.style.margin='0';document.body.style.overflow='hidden';")
